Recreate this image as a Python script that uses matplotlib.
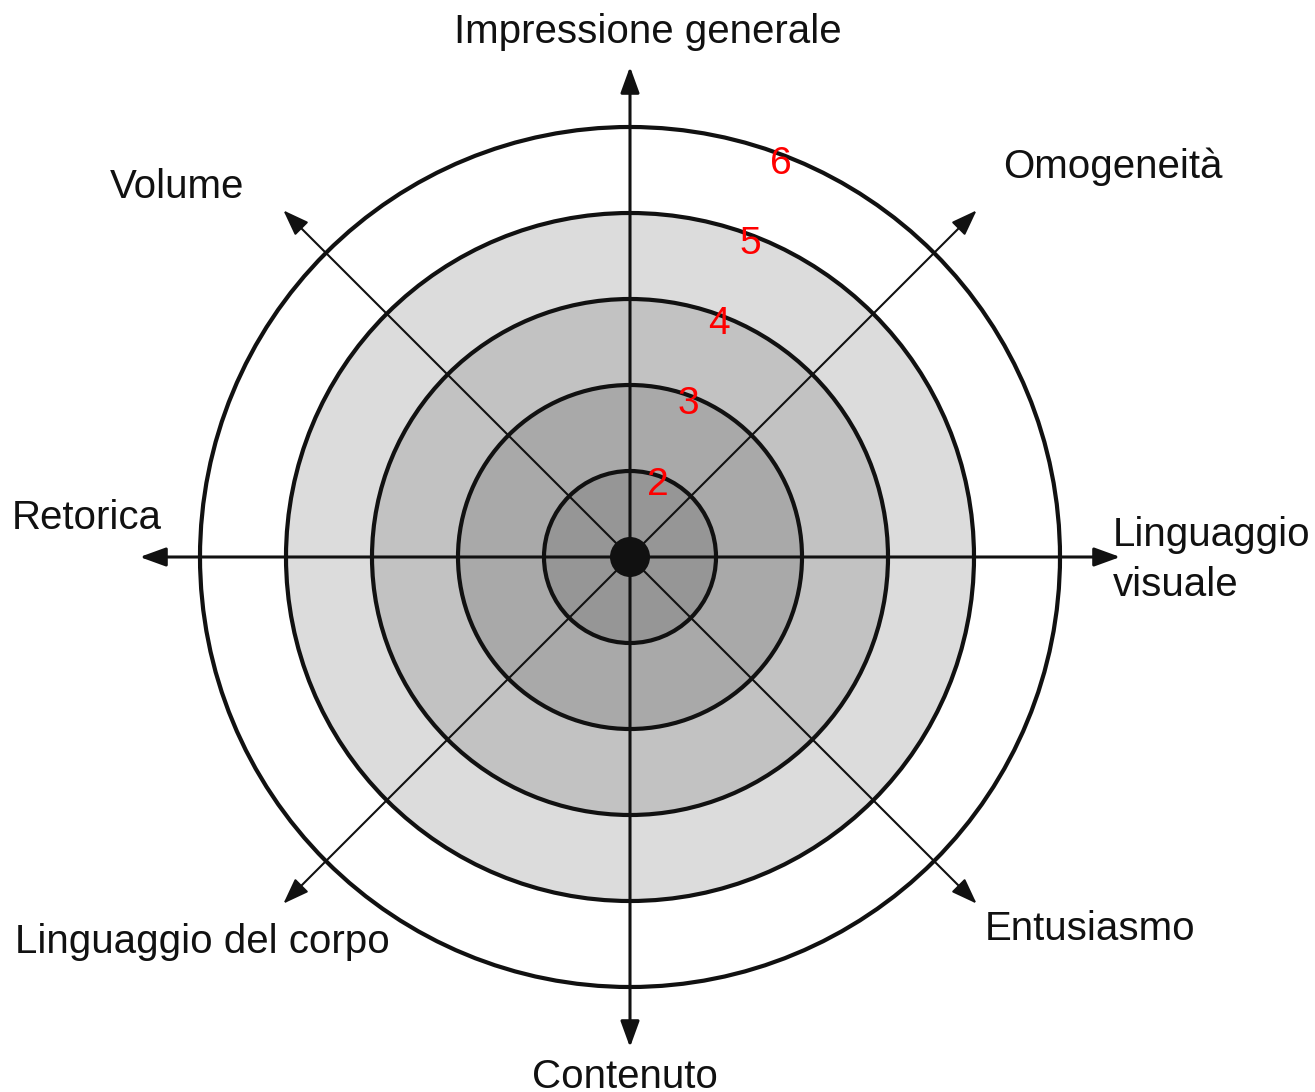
import numpy as np
import matplotlib
matplotlib.use("Agg")
import matplotlib.pyplot as plt
from matplotlib.patches import Circle, FancyArrowPatch

# ---- data ----
categories = ["Impressione generale", "Omogeneità", "Linguaggio\nvisuale", "Entusiasmo",
              "Contenuto", "Linguaggio del corpo", "Retorica", "Volume"]
category_angles = [90, 45, 0, -45, -90, -135, 180, 135]   # degrees
ring_levels = [2, 3, 4, 5, 6]                              # scale values on the rings
ring_fills = ["#969696", "#a9a9a9", "#c2c2c2", "#dcdcdc", "#ffffff"]
scale_origin = 1                                           # value at the centre
axis_max = 6.70                                            # arrow tip, in scale units

# ---- layout (pixels -> scale units) ----
W, H, DPI = 1315, 1092, 100
cx, cy, unit = 630, 557, 86.0

fig = plt.figure(figsize=(W / DPI, H / DPI), dpi=DPI)
ax = fig.add_axes([0, 0, 1, 1])
ax.set_xlim(-cx / unit, (W - cx) / unit)
ax.set_ylim(-(H - cy) / unit, cy / unit)
ax.set_aspect("equal")
ax.axis("off")

def px(x, y):
    return (x - cx) / unit, (cy - y) / unit

# rings, outermost first
for lvl, fc in sorted(zip(ring_levels, ring_fills), reverse=True):
    r = lvl - scale_origin
    ax.add_patch(Circle((0, 0), r, facecolor=fc, edgecolor="#111111", lw=3.0, zorder=1))

# axes arrows
for ang in category_angles:
    a = np.deg2rad(ang)
    L = axis_max - scale_origin
    lw = 2.2 if ang % 90 == 0 else 1.5
    arr = FancyArrowPatch((0, 0), (L * np.cos(a), L * np.sin(a)),
                          arrowstyle="-|>,head_length=0.25,head_width=0.1",
                          mutation_scale=1, lw=lw, color="#111111",
                          shrinkA=0, shrinkB=0, zorder=3)
    arr.set_arrowstyle("-|>", head_length=22 * 0.72, head_width=8 * 0.72)
    ax.add_patch(arr)

# centre dot
ax.add_patch(Circle((0, 0), 20 / unit, facecolor="#111111", edgecolor="none", zorder=4))

# ring value labels
lab_ang = np.deg2rad(69)
for lvl in ring_levels:
    r = lvl - scale_origin - 0.1
    ax.text(r * np.cos(lab_ang), r * np.sin(lab_ang), str(lvl), color="#ff0000",
            fontsize=28, family="Liberation Sans", ha="center", va="center", zorder=5)

# category labels (pixel anchor, ha)
label_pos = [((648, 32), "center"), ((1003, 167), "left"), ((1113, 560), "left"),
             ((985, 929), "left"), ((625, 1077), "center"), ((15, 942), "left"),
             ((12, 518), "left"), ((110, 187), "left")]
for name, ((x, y), ha) in zip(categories, label_pos):
    X, Y = px(x, y)
    ax.text(X, Y, name, fontsize=29, family="Liberation Sans", ha=ha, va="center",
            color="#111111", linespacing=1.43, zorder=5)

fig.savefig("out.png", dpi=DPI, facecolor="white")
